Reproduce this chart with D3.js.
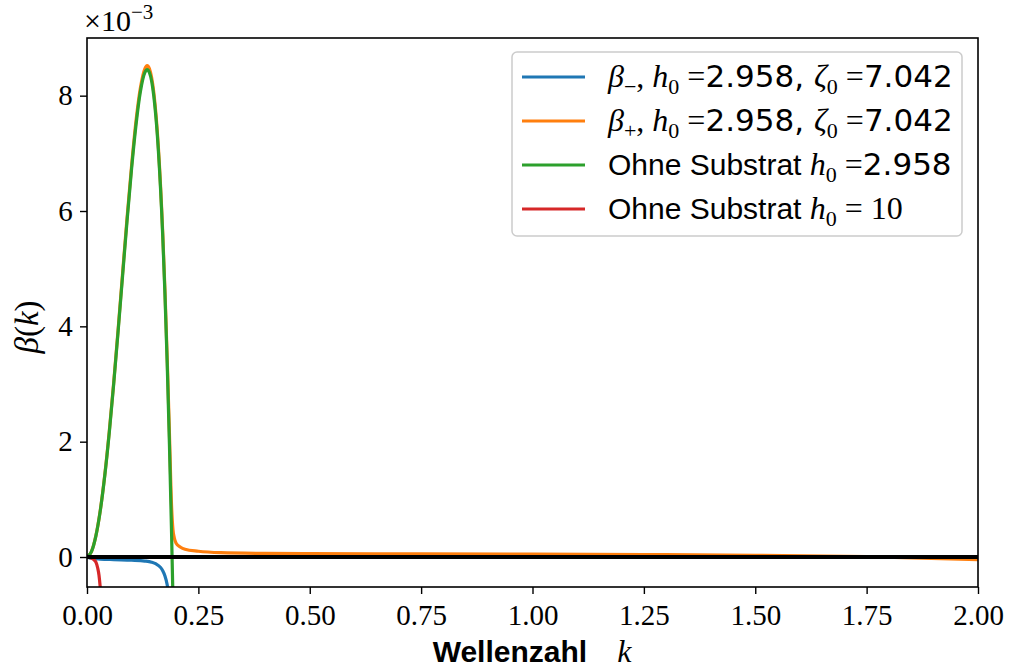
<!DOCTYPE html>
<html><head><meta charset="utf-8">
<script src="https://cdn.jsdelivr.net/npm/d3@7"></script>
<style>body{margin:0;background:#fff}</style>
</head><body>
<svg id="c" width="1010" height="671"></svg>
<script>
// Data (beta values in units of 1e-3)
const kGreen = [0,0.01,0.02,0.03,0.04,0.05,0.06,0.07,0.08,0.09,0.10,0.11,0.12,0.13,0.135,0.14,0.15,0.16,0.17,0.175,0.18,0.185,0.19,0.193];
const betaGreen = [0,0.092,0.367,0.813,1.417,2.158,3.006,3.930,4.889,5.838,6.726,7.492,8.076,8.404,8.45,8.403,7.989,7.074,5.564,4.55,3.358,1.961,0.35,-0.73];
const kOrange = [0,0.01,0.02,0.03,0.04,0.05,0.06,0.07,0.08,0.09,0.10,0.11,0.12,0.13,0.135,0.14,0.15,0.16,0.17,0.175,0.18,0.185,0.19,0.193,0.196,0.2,0.21,0.22,0.25,0.3,0.4,0.5,0.75,1.0,1.25,1.5,1.75,2.0];
const betaOrange = [0,0.093,0.37,0.82,1.43,2.18,3.03,3.96,4.93,5.89,6.78,7.56,8.14,8.47,8.52,8.47,8.05,7.13,5.62,4.62,3.45,2.15,0.85,0.47,0.33,0.24,0.17,0.135,0.10,0.075,0.062,0.058,0.055,0.05,0.042,0.03,0.005,-0.045];
const kBlue = [0,0.01,0.03,0.06,0.10,0.13,0.145,0.155,0.165,0.17,0.175,0.18,0.183];
const betaBlue = [0,-0.02,-0.035,-0.045,-0.055,-0.07,-0.09,-0.12,-0.18,-0.24,-0.33,-0.48,-0.62];
const kRed = [0,0.008,0.016,0.02,0.024,0.027,0.03];
const betaRed = [0,-0.015,-0.05,-0.09,-0.19,-0.32,-0.55];
const xTicks = [0,0.25,0.5,0.75,1.0,1.25,1.5,1.75,2.0];
const yTicks = [0,2,4,6,8];
const colors = {blue:"#1f77b4", orange:"#ff7f0e", green:"#2ca02c", red:"#d62728"};

const svg = d3.select("#c");
const L=87, R=978, T=38, B=587;
const x = d3.scaleLinear().domain([0,2]).range([L,R]);
const y = d3.scaleLinear().domain([-0.52,9.0]).range([B,T]);

svg.append("defs").append("clipPath").attr("id","clip")
  .append("rect").attr("x",L).attr("y",T).attr("width",R-L).attr("height",B-T);

const serif = "'Liberation Serif', 'DejaVu Serif', serif";
const sans = "'Liberation Sans', Arial, sans-serif";
const numf = "'DejaVu Sans', sans-serif";

const line = d3.line().x(d=>x(d[0])).y(d=>y(d[1])).curve(d3.curveMonotoneX);
const g = svg.append("g").attr("clip-path","url(#clip)");
const series = [
  [kBlue,betaBlue,colors.blue],
  [kOrange,betaOrange,colors.orange],
  [kGreen,betaGreen,colors.green],
  [kRed,betaRed,colors.red]
];
series.forEach(([ks,bs,c])=>{
  g.append("path").attr("d", line(ks.map((k,i)=>[k,bs[i]])))
   .attr("fill","none").attr("stroke",c).attr("stroke-width",3.2).attr("stroke-linejoin","round");
});
// zero line
g.append("line").attr("x1",L).attr("x2",R).attr("y1",y(0)).attr("y2",y(0))
  .attr("stroke","#000").attr("stroke-width",4);

// axes
const xa = svg.append("g").attr("transform",`translate(0,${B})`)
  .call(d3.axisBottom(x).tickValues(xTicks).tickFormat(d3.format(".2f")).tickSize(7).tickSizeOuter(0));
const ya = svg.append("g").attr("transform",`translate(${L},0)`)
  .call(d3.axisLeft(y).tickValues(yTicks).tickFormat(d3.format("d")).tickSize(7).tickSizeOuter(0));
[xa,ya].forEach(a=>{
  a.select(".domain").remove();
  a.selectAll("line").attr("stroke","#000").attr("stroke-width",1.4);
  a.selectAll("text").attr("font-family",serif).attr("font-size",29).attr("fill","#000");
});
xa.selectAll("text").attr("dy","0.95em");
ya.selectAll("text").attr("dx","-0.15em");
svg.append("rect").attr("x",L).attr("y",T).attr("width",R-L).attr("height",B-T)
  .attr("fill","none").attr("stroke","#000").attr("stroke-width",1.6);

// x label
const xl = svg.append("text").attr("x",532).attr("y",662).attr("text-anchor","middle");
xl.append("tspan").attr("font-family",sans).attr("font-weight","bold").attr("font-size",30).text("Wellenzahl");
xl.append("tspan").attr("font-family",serif).attr("font-style","italic").attr("font-size",32).attr("dx",30).text("k");

// y label
const yl = svg.append("text").attr("transform","translate(38,327) rotate(-90)").attr("text-anchor","middle")
  .attr("font-family",serif).attr("font-size",33);
yl.append("tspan").attr("font-style","italic").text("β");
yl.append("tspan").text("(");
yl.append("tspan").attr("font-style","italic").text("k");
yl.append("tspan").text(")");

// offset text
const off = svg.append("text").attr("x",84).attr("y",31).attr("font-family",serif).attr("font-size",30);
off.append("tspan").text("×10");
off.append("tspan").attr("font-size",21).attr("dy",-12).text("−3");

// legend
const lg = svg.append("g");
lg.append("rect").attr("x",512).attr("y",52).attr("width",450).attr("height",184).attr("rx",5)
  .attr("fill","#fff").attr("fill-opacity",0.8).attr("stroke","#ccc").attr("stroke-width",1.5);
const entries = [
  {c:colors.blue, parts:[["β","mi"],["−","sub"],[", ","rm"],["h","mi"],["0","sub"],[" =","rm"],["2.958, ","num"],["ζ","mi"],["0","sub"],[" =","rm"],["7.042","num"]]},
  {c:colors.orange, parts:[["β","mi"],["+","sub"],[", ","rm"],["h","mi"],["0","sub"],[" =","rm"],["2.958, ","num"],["ζ","mi"],["0","sub"],[" =","rm"],["7.042","num"]]},
  {c:colors.green, parts:[["Ohne Substrat ","sf"],["h","mi"],["0","sub"],[" =","rm"],["2.958","num"]]},
  {c:colors.red, parts:[["Ohne Substrat ","sf"],["h","mi"],["0","sub"],[" = 10","rm"]]}
];
entries.forEach((e,i)=>{
  const cy = 77 + i*44;
  lg.append("line").attr("x1",522).attr("x2",585).attr("y1",cy).attr("y2",cy)
    .attr("stroke",e.c).attr("stroke-width",3.2);
  const t = lg.append("text").attr("x",608).attr("y",cy+10).attr("xml:space","preserve").style("white-space","pre");
  let shifted=false;
  e.parts.forEach(([s,st])=>{
    const sp = t.append("tspan").text(s);
    let dy = 0;
    if(st==="sub"){ sp.attr("font-family",serif).attr("font-size",22); dy = shifted?0:7; shifted=true; }
    else { if(shifted){dy=-7; shifted=false;}
      if(st==="mi") sp.attr("font-family",serif).attr("font-style","italic").attr("font-size",32);
      else if(st==="rm") sp.attr("font-family",serif).attr("font-size",32);
      else if(st==="num") sp.attr("font-family",numf).attr("font-size",31);
      else sp.attr("font-family",sans).attr("font-size",30);
    }
    if(dy) sp.attr("dy",dy);
  });
});
</script>
</body></html>
